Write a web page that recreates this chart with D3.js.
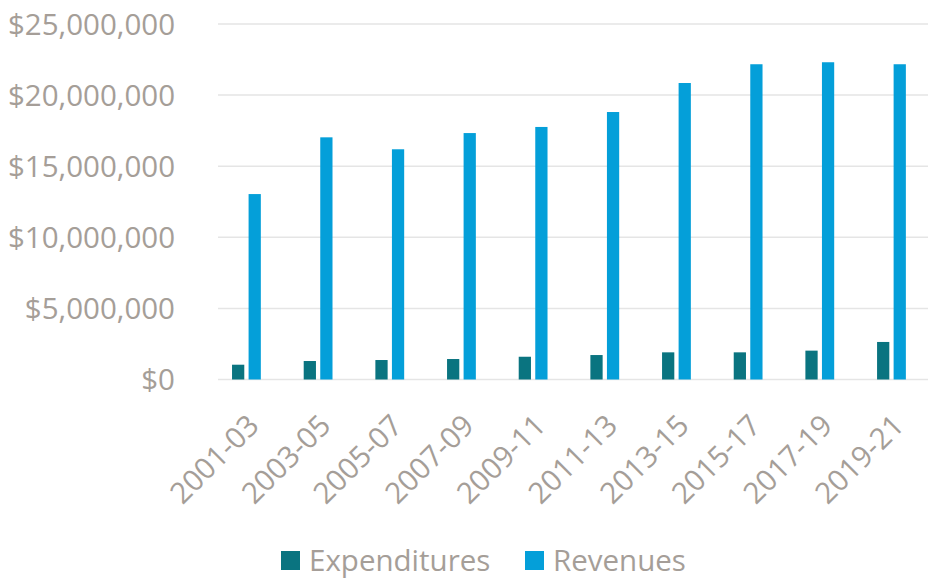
<!DOCTYPE html>
<html>
<head>
<meta charset="utf-8">
<script src="https://cdn.jsdelivr.net/npm/d3@7"></script>
<style>
  body { margin: 0; background: #fff; }
  text { font-family: "Open Sans", sans-serif; fill: #a59e98; }
</style>
</head>
<body>
<script>
// biennium labels
var periods = ["2001-03", "2003-05", "2005-07", "2007-09", "2009-11",
               "2011-13", "2013-15", "2015-17", "2017-19", "2019-21"];
var expenditures = [1040000, 1300000, 1370000, 1440000, 1600000,
                    1720000, 1910000, 1910000, 2030000, 2640000];
var revenues = [13040000, 17030000, 16190000, 17330000, 17760000,
                18810000, 20850000, 22170000, 22310000, 22170000];
var yTicks = [0, 5000000, 10000000, 15000000, 20000000, 25000000];
var seriesNames = ["Expenditures", "Revenues"];
var colors = ["#0a7480", "#049fd9"];

var width = 928, height = 579;

var svg = d3.select("body").append("svg")
    .attr("width", width)
    .attr("height", height);

var x = d3.scaleBand()
    .domain(periods)
    .range([210.6, 927.3]);

var inner = d3.scaleBand()
    .domain(seriesNames)
    .range([-14.4, 14.4])
    .paddingInner(0.26);

var y = d3.scaleLinear()
    .domain([0, 25000000])
    .range([379.5, 24]);

var fmt = function(d) { return "$" + d3.format(",")(d); };

// gridlines
svg.append("g")
  .selectAll("line")
  .data(yTicks)
  .enter().append("line")
    .attr("x1", 218)
    .attr("x2", 928)
    .attr("y1", function(d) { return y(d); })
    .attr("y2", function(d) { return y(d); })
    .attr("stroke", "#e5e5e5")
    .attr("stroke-width", 1.5);

// y axis labels
var yAxis = svg.append("g")
    .attr("transform", "translate(175,0)")
    .call(d3.axisLeft(y).tickValues(yTicks).tickFormat(fmt).tickSize(0).tickPadding(0));
yAxis.select(".domain").remove();
yAxis.selectAll("text")
    .style("font-size", "29.5px")
    .style("font-family", "'Open Sans', sans-serif")
    .attr("fill", "#a59e98")
    .attr("dy", "0.35em");

// bars
var rows = periods.map(function(p, i) {
  return { period: p, values: [expenditures[i], revenues[i]] };
});

var groups = svg.append("g")
  .selectAll("g")
  .data(rows)
  .enter().append("g")
    .attr("transform", function(d) { return "translate(" + (x(d.period) + x.bandwidth() / 2) + ",0)"; });

groups.selectAll("rect")
    .data(function(d) { return d.values.map(function(v, j) { return { key: seriesNames[j], value: v, idx: j }; }); })
  .enter().append("rect")
    .attr("x", function(d) { return inner(d.key); })
    .attr("width", inner.bandwidth())
    .attr("y", function(d) { return y(d.value); })
    .attr("height", function(d) { return y(0) - y(d.value); })
    .attr("fill", function(d) { return colors[d.idx]; });

// x axis labels, rotated
svg.append("g")
  .selectAll("text")
  .data(periods)
  .enter().append("text")
    .attr("transform", function(d) {
      return "translate(" + (x(d) + x.bandwidth() / 2 + 7) + ",420) rotate(-45)";
    })
    .attr("text-anchor", "end")
    .attr("dy", "0.35em")
    .style("font-size", "29.5px")
    .text(function(d) { return d; });

// legend
var legend = svg.append("g");
var legendX = [281, 525];
seriesNames.forEach(function(name, i) {
  legend.append("rect")
      .attr("x", legendX[i])
      .attr("y", 551)
      .attr("width", 19)
      .attr("height", 19)
      .attr("fill", colors[i]);
  legend.append("text")
      .attr("x", legendX[i] + 28)
      .attr("y", 561)
      .attr("dy", "0.35em")
      .style("font-size", "29.5px")
      .text(name);
});
</script>
</body>
</html>
